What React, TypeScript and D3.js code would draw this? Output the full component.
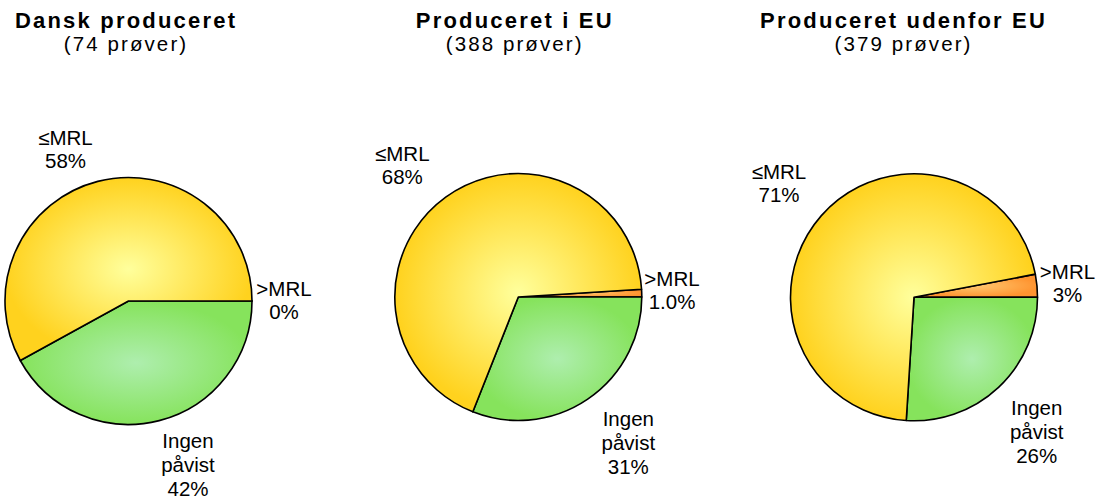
import React from 'react';
import * as d3 from 'd3';

// ---- data ----
const categories = ['>MRL', 'Ingen påvist', '≤MRL'];
const panelTitles = ['Dansk produceret', 'Produceret i EU', 'Produceret udenfor EU'];
const sampleCounts = [74, 388, 379];
const aboveMRL = [0, 1.0, 3];
const notDetected = [42, 31, 26];
const belowMRL = [58, 68, 71];
const aboveMRLLabels = ['0%', '1.0%', '3%'];

// ---- layout (not data) ----
const W = 1101;
const H = 502;
const panels = [
  { cx: 128.5, cy: 301, r: 123.5, tx: 125 },
  { cx: 518.3, cy: 297, r: 123.5, tx: 513.7 },
  { cx: 914, cy: 297.3, r: 123.5, tx: 902.5 },
];
// label block offsets [dx, first-baseline dy] per category order (>MRL, Ingen, ≤MRL)
const labelOffsets = [
  [[155.5, -5], [59.5, 147], [-63, -156]],
  [[153.7, -11], [110, 128.5], [-116, -136]],
  [[153.5, -18], [122.7, 117.7], [-135, -118]],
];
const gradients = [
  { id: 'gOrange', inner: '#FFC870', outer: '#FF9430' },
  { id: 'gGreen', inner: '#AEEEAE', outer: '#86E35C' },
  { id: 'gYellow', inner: '#FFFF9C', outer: '#FFD21E' },
];
const FONT = '"Liberation Sans", Arial, sans-serif';

export default function App() {
  return (
    <div style={{ position: 'absolute', left: 0, top: 0, width: W, height: H, overflow: 'hidden', background: '#fff' }}>
      <svg width={W} height={H} style={{ display: 'block' }} fontFamily={FONT}>
        <defs>
          {gradients.map((g) => (
            <radialGradient key={g.id} id={g.id} cx="0.5" cy="0.5" r="0.5">
              <stop offset="0%" stopColor={g.inner} />
              <stop offset="100%" stopColor={g.outer} />
            </radialGradient>
          ))}
        </defs>
        {panels.map((p, i) => {
          const values = [aboveMRL[i], notDetected[i], belowMRL[i]];
          const total = d3.sum(values);
          const start = Math.PI / 2 - (2 * Math.PI * values[0]) / total;
          const pie = d3
            .pie<number>()
            .sort(null)
            .value((d) => d)
            .startAngle(start)
            .endAngle(start + 2 * Math.PI);
          const arcs = pie(values);
          const arc = d3.arc<d3.PieArcDatum<number>>().innerRadius(0).outerRadius(p.r);
          const pct = d3.format('.0%');
          const labelLines = [
            ['>MRL', aboveMRLLabels[i]],
            ['Ingen', 'påvist', pct(values[1] / 100)],
            ['≤MRL', pct(values[2] / 100)],
          ];
          return (
            <g key={i}>
              <text
                x={p.tx + 1.1}
                y={27.6}
                textAnchor="middle"
                fontWeight="bold"
                fontSize={22}
                letterSpacing={2.2}
                fill="#000"
              >
                {panelTitles[i]}
              </text>
              <text x={p.tx + 1} y={51.2} textAnchor="middle" fontSize={20.5} letterSpacing={2.1} fill="#000">
                {`(${sampleCounts[i]} prøver)`}
              </text>
              <g transform={`translate(${p.cx},${p.cy})`}>
                {arcs.map((a, j) => (
                  <path
                    key={categories[j]}
                    d={arc(a) || ''}
                    fill={`url(#${gradients[j].id})`}
                    stroke="#000"
                    strokeWidth={1.6}
                    strokeLinejoin="round"
                  />
                ))}
                {labelLines.map((lines, j) => {
                  const [dx, dy] = labelOffsets[i][j];
                  const lh = j === 1 ? 24 : 23;
                  return (
                    <text key={j} textAnchor="middle" fontSize={20.5} fill="#000">
                      {lines.map((ln, k) => (
                        <tspan key={k} x={dx} y={dy + k * lh}>
                          {ln}
                        </tspan>
                      ))}
                    </text>
                  );
                })}
              </g>
            </g>
          );
        })}
      </svg>
    </div>
  );
}
